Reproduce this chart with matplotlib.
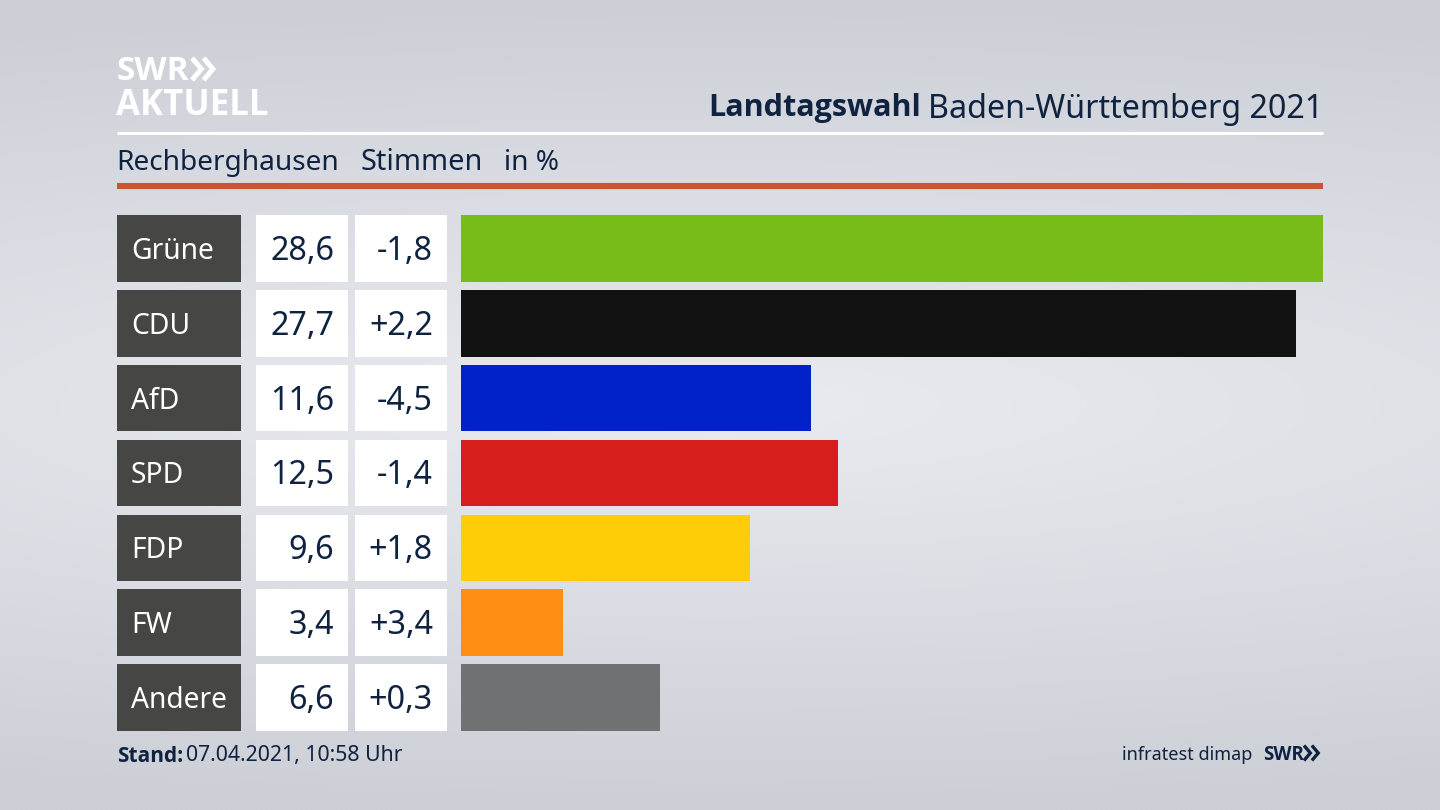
import matplotlib
matplotlib.use("Agg")
import matplotlib.pyplot as plt
import numpy as np

plt.rcParams['font.family'] = ['Noto Sans', 'DejaVu Sans']

# Chart data
parties = ["Grüne", "CDU", "AfD", "SPD", "FDP", "FW", "Andere"]
shares = [28.6, 27.7, 11.6, 12.5, 9.6, 3.4, 6.6]
diffs = [-1.8, 2.2, -4.5, -1.4, 1.8, 3.4, 0.3]
colors = ["#78bc1a", "#121212", "#0022c8", "#d61f1c", "#ffcc08", "#ff8f14", "#707173"]

title_bold = "Landtagswahl"
title_rest = "Baden-Württemberg 2021"
place = "Rechberghausen"
measure = "Stimmen"
unit = "in %"
stand_label = "Stand:"
stand_date = "07.04.2021, 10:58 Uhr"
source = "infratest dimap"

W, H = 1440, 810
NAVY = "#0f2240"
PANEL = "#464644"
BOLD = ['Open Sans', 'DejaVu Sans']


def px_axes(fig, left, right, top, bottom):
    """Axes placed by pixel edges, y counted from the top."""
    ax = fig.add_axes([left / W, 1 - bottom / H, (right - left) / W, (bottom - top) / H])
    ax.axis('off')
    return ax


def chevrons(ax, x, y, size, color, lw):
    """The double arrow of the SWR logo."""
    for dx in (0, size * 1.05):
        ax.plot([x + dx, x + dx + size * 0.85, x + dx],
                [y - size, y, y + size], color=color, lw=lw,
                solid_joinstyle='miter', solid_capstyle='butt')


fig = plt.figure(figsize=(W / 100, H / 100), dpi=100)

# Background: light band through the middle, darker to the top and bottom
bg = fig.add_axes([0, 0, 1, 1])
yy, xx = np.mgrid[0:1:162j, 0:1:288j]
dist = np.sqrt(((yy - 0.5) / 0.5) ** 2 + (0.35 * (xx - 0.5) / 0.5) ** 2)
dist = np.clip(dist, 0, 1)[..., None]
light = np.array([233, 235, 240]) / 255
dark = np.array([204, 207, 214]) / 255
bg.imshow(light * (1 - dist) + dark * dist, aspect='auto', extent=(0, W, H, 0), interpolation='bicubic')
bg.set_xlim(0, W)
bg.set_ylim(H, 0)
bg.axis('off')

# Header and footer
bg.plot([117, 1323], [133, 133], color="white", lw=2.2, solid_capstyle='butt')
bg.plot([117, 1323], [186, 186], color="#cc5238", lw=4.4, solid_capstyle='butt')

bg.text(117, 72, "SWR", color="white", fontsize=24, family=BOLD, fontweight='bold', va='center', ha='left')
chevrons(bg, 192, 69, 11, "white", 3.6)
bg.text(116, 106, "AKTUELL", color="white", fontsize=25, family=BOLD, fontweight='bold', va='center', ha='left')

bg.text(921, 108, title_bold, color=NAVY, fontsize=22, family=BOLD, fontweight='bold', va='center', ha='right')
bg.text(1323, 109, title_rest, color=NAVY, fontsize=23.2, va='center', ha='right')

bg.text(116, 163, place, color=NAVY, fontsize=20.2, va='center', ha='left')
bg.text(360, 163, measure, color=NAVY, fontsize=20.8, va='center', ha='left')
bg.text(504, 163, unit, color=NAVY, fontsize=20.2, va='center', ha='left')

bg.text(117, 757, stand_label, color=NAVY, fontsize=15, family=BOLD, fontweight='bold', va='center', ha='left')
bg.text(186, 756, stand_date, color=NAVY, fontsize=15.3, va='center', ha='left')
bg.text(1252, 755, source, color=NAVY, fontsize=13, va='center', ha='right')
bg.text(1263, 755, "SWR", color=NAVY, fontsize=13.5, family=BOLD, fontweight='bold', va='center', ha='left')
chevrons(bg, 1304, 753, 7.5, NAVY, 2.4)

# Table columns and bars share one row scale
top, bottom = 215, 731
ax_label = px_axes(fig, 117, 241, top, bottom)
ax_share = px_axes(fig, 256, 348, top, bottom)
ax_diff = px_axes(fig, 355, 447, top, bottom)
ax_bars = px_axes(fig, 461, 1323, top, bottom)

rows = np.arange(len(parties))
row_h = 0.89
for ax in (ax_label, ax_share, ax_diff, ax_bars):
    ax.set_ylim(len(parties) - 1 + row_h / 2, -row_h / 2)

ax_bars.barh(rows, shares, height=row_h, color=colors)
ax_bars.set_xlim(0, max(shares))

for ax, fill in ((ax_label, PANEL), (ax_share, "white"), (ax_diff, "white")):
    ax.barh(rows, [1] * len(rows), height=row_h, color=fill)
    ax.set_xlim(0, 1)

text_dy = 0.04  # the font sits a little high in its box
for i, party in enumerate(parties):
    ax_label.text(14 / 124, i + text_dy, party, color="white", fontsize=20.3, va='center', ha='left')
    ax_share.text(78 / 92, i + text_dy, f"{shares[i]:.1f}".replace(".", ","), color=NAVY, fontsize=23.3, va='center', ha='right')
    ax_diff.text(78 / 92, i + text_dy, f"{diffs[i]:+.1f}".replace(".", ","), color=NAVY, fontsize=23.3, va='center', ha='right')

fig.savefig("out.png", dpi=100)
